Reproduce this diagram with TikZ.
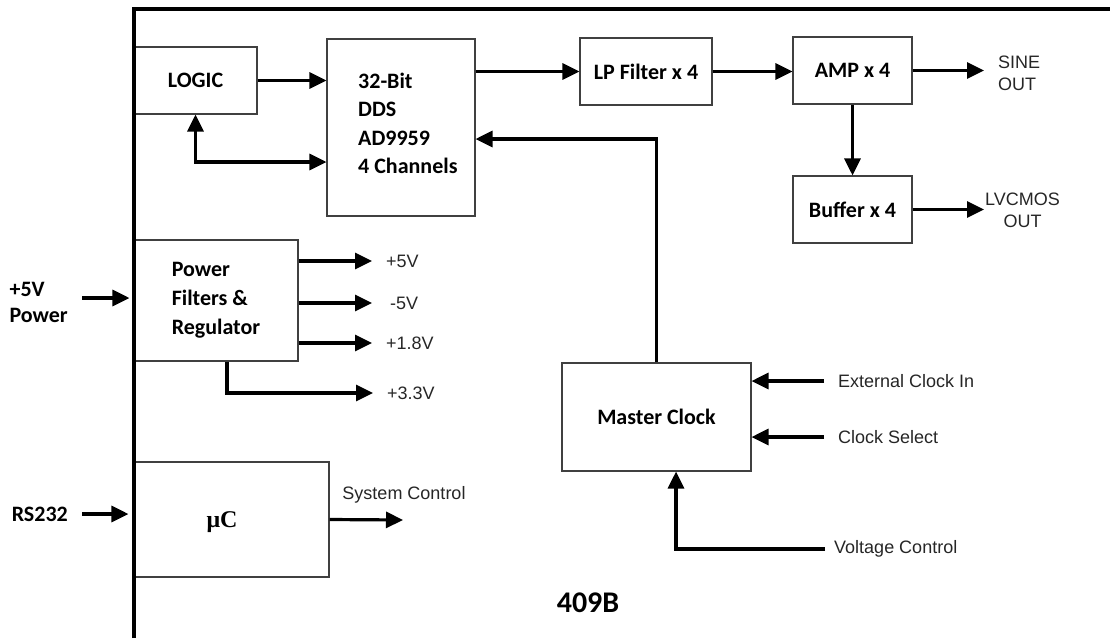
\documentclass[tikz,border=0pt]{standalone}
\usepackage{fontspec}
\setmainfont{Carlito}
\newfontfamily\arialfont{Liberation Sans}
\newfontfamily\timesfont{Liberation Serif}
\usetikzlibrary{arrows.meta}
\tikzset{
	boldtxt/.style={font=\bfseries\fontsize{22}{26}\selectfont,},
	sigtxt/.style={font=\arialfont\mdseries\fontsize{18}{22}\selectfont, text=black!85,},
	lw/.style={line width=3.2pt,},
	%%%
	frame/.style={black, lw},
	box/.style={draw=black!75, line width=1.1pt, inner sep=0, align=left, boldtxt},
	arr/.style={lw, -{Triangle[length=17pt,width=16pt]}},
	arrboth/.style={lw, {Triangle[length=17pt,width=16pt]}-{Triangle[length=17pt,width=16pt]}},
	sig/.style={sigtxt, inner ysep=0, inner xsep=14pt, align=left},
	sigin/.style={boldtxt, inner ysep=0, inner xsep=14pt, align=left},
}
\gdef\Hs{67pt}
\gdef\Wamp{119pt}

\begin{document}
\begin{tikzpicture}[x=1pt, y=-1pt]

	\useasboundingbox (0,0) rectangle (1110,638);

	%%% Boxes

	\node[box, minimum width=123pt, minimum height=\Hs] (logic) at (195.5,80.5) {LOGIC};
	\node[box, minimum width=148pt, minimum height=177pt] (dds) at (401,127.5) {};
	\node[boldtxt, anchor=west, align=left, inner sep=0, font=\bfseries\fontsize{22}{28.5}\selectfont] (ddstxt) at (358,123.5) {32-Bit\\DDS\\AD9959\\4 Channels};
	\node[box, minimum width=132pt, minimum height=\Hs] (lp) at (646,71.5) {LP Filter x 4};
	\node[box, minimum width=\Wamp, minimum height=\Hs] (amp) at (852.5,70.5) {AMP x 4};
	\node[box, minimum width=\Wamp, minimum height=\Hs] (buf) at (852.5,209.5) {Buffer x 4};

	\node[box, minimum width=164pt, minimum height=121pt, font=\bfseries\fontsize{22}{29}\selectfont] (pwr) at (216,300.5) {Power\\Filters \&\\Regulator};
	\node[box, minimum width=195pt, minimum height=115pt] (uc) at (231.5,519.5) {};
	\node[font=\timesfont\bfseries\fontsize{24}{24}\selectfont, inner sep=0] (uctxt) at (222,522) {μC};
	\node[box, minimum width=189pt, minimum height=108pt] (mclk) at (656.5,417) {Master Clock};

	%%% Labels

	\node[sig, anchor=west] (sine) at (984,73.5) {SINE\\OUT};
	\node[sig, anchor=west, inner xsep=1pt, align=center] (lvcmos) at (984,210.5) {LVCMOS\\OUT};

	\node[sig, anchor=west] (v5) at (372,261) {+5V};
	\node[sig, anchor=west, inner xsep=18pt] (vm5) at (372,303) {-5V};
	\node[sig, anchor=west] (v18) at (372,343) {+1.8V};
	\node[sig, anchor=west] (v33) at (373,393) {+3.3V};

	\node[sig, anchor=west] (extclk) at (824,381) {External Clock In};
	\node[sig, anchor=west] (clksel) at (824,437) {Clock Select};
	\node[sig, anchor=west, inner xsep=9pt] (vctl) at (825,549) {Voltage Control};

	\node[sig, inner sep=0] (sysctl) at (404,495) {System Control};
	\coordinate (sysend) at (403,520);

	\node[sigin, anchor=east] (pin) at (82,302.5) {+5V\\Power};
	\node[sigin, anchor=east] (rs) at (82,514) {RS232};

	\node[boldtxt, font=\bfseries\fontsize{30}{30}\selectfont] (model) at (588,603) {409B};

	%%% Connectors

	\draw[arr] (logic.east) -- (logic.east -| dds.west);
	\draw[arrboth] (logic.south) |- ([yshift=-34.5pt]dds.west);
	\draw[arr] (dds.east |- lp.west) -- (lp.west);
	\draw[arr] (lp.east) -- (lp.east -| amp.west);
	\draw[arr] (amp.east) -- (amp.east -| sine.west);
	\draw[arr] (amp.south) -- (buf.north);
	\draw[arr] (buf.east) -- (buf.east -| lvcmos.west);

	\draw[arr] (mclk.north) |- ([yshift=-11.5pt]dds.east);
	\draw[arr] (extclk.west) -- (extclk.west -| mclk.east);
	\draw[arr] (clksel.west) -- (clksel.west -| mclk.east);
	\draw[arr] (vctl.west) -| ([xshift=19.5pt]mclk.south);

	\draw[arr] (pwr.east |- v5.west) -- (v5.west);
	\draw[arr] (pwr.east |- vm5.west) -- (vm5.west);
	\draw[arr] (pwr.east |- v18.west) -- (v18.west);
	\draw[arr] ([xshift=11pt]pwr.south) |- (v33.west);

	\draw[arr, shorten >=4pt] ([yshift=4.5pt]pin.east) -- ([yshift=4.5pt]pin.east -| pwr.west);
	\draw[arr, shorten >=5pt] (rs.east) -- (rs.east -| uc.west);
	\draw[arr] (uc.east) -- (sysend);

	%%% Frame

	\draw[frame] (134,638) -- (134,9) -- (1110,9);

\end{tikzpicture}
\end{document}
